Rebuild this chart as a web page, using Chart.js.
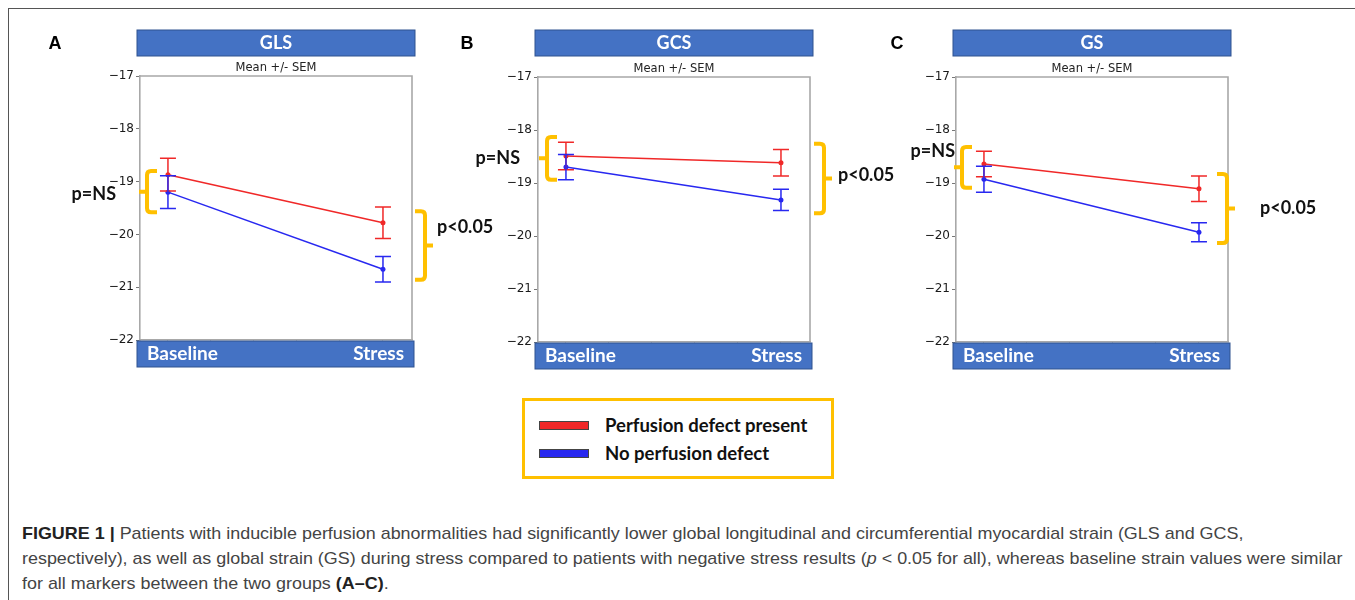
<!DOCTYPE html>
<html>
<head>
<meta charset="utf-8">
<script src="https://cdn.jsdelivr.net/npm/chart.js@4.4.1/dist/chart.umd.min.js"></script>
<style>
  body { margin: 0; background: #fff; width: 1355px; height: 600px; overflow: hidden; position: relative; }
  #frame { position: absolute; left: 8px; top: 8px; width: 1400px; height: 700px; border-left: 1.5px solid #555; border-top: 1.5px solid #555; }
  canvas { position: absolute; top: 0; }
  #legend { position: absolute; left: 522px; top: 398px; width: 306px; height: 75px; border: 3.5px solid #ffc000; font-family: Lato, sans-serif; font-weight: bold; font-size: 18.5px; color: #111; }
  #legend div { position: absolute; left: 80px; white-space: nowrap; }
  #legend span { position: absolute; left: -66px; top: 7px; width: 48px; height: 7px; border: 1px solid #444; }
  #caption { position: absolute; left: 22px; top: 521px; font-family: "Liberation Sans", Arial, sans-serif; font-size: 17px; color: #444; line-height: 25px; }
  #caption div { white-space: nowrap; transform-origin: 0 0; }
  #caption b { color: #222; }
</style>
</head>
<body>
<div id="frame"></div>
<canvas id="c0" width="540" height="380"></canvas>
<canvas id="c1" width="540" height="380"></canvas>
<canvas id="c2" width="540" height="380"></canvas>
<div id="legend"></div>
<div id="caption">
  <div><b>FIGURE 1 |</b> Patients with inducible perfusion abnormalities had significantly lower global longitudinal and circumferential myocardial strain (GLS and GCS,</div>
  <div>respectively), as well as global strain (GS) during stress compared to patients with negative stress results (<i>p</i> &lt; 0.05 for all), whereas baseline strain values were similar</div>
  <div>for all markers between the two groups <b>(A–C)</b>.</div>
</div>
<script>
var groups = ['Baseline', 'Stress'];
var titles = ['GLS', 'GCS', 'GS'];
var letters = ['A', 'B', 'C'];
var seriesNames = ['Perfusion defect present', 'No perfusion defect'];
var pLabels = ['p=NS', 'p<0.05'];

// means and SEM, [baseline, stress]
var glsDefect = [-18.87, -19.78];
var glsDefectSem = [0.31, 0.30];
var glsNone = [-19.20, -20.66];
var glsNoneSem = [0.31, 0.24];

var gcsDefect = [-18.49, -18.62];
var gcsDefectSem = [0.26, 0.25];
var gcsNone = [-18.70, -19.32];
var gcsNoneSem = [0.24, 0.20];

var gsDefect = [-18.64, -19.11];
var gsDefectSem = [0.24, 0.24];
var gsNone = [-18.93, -19.93];
var gsNoneSem = [0.245, 0.18];

// value span of each bracket: [baseline, stress]
var glsBrackets = [[-18.80, -19.58], [-19.56, -20.86]];
var gcsBrackets = [[-18.13, -18.94], [-18.26, -19.57]];
var gsBrackets = [[-18.32, -19.09], [-18.83, -20.13]];

var red = '#f02828', blue = '#2828f0', gold = '#ffc000', barBlue = '#4472c4';

var panels = [
  { defect: glsDefect, defectSem: glsDefectSem, none: glsNone, noneSem: glsNoneSem, brackets: glsBrackets,
    left: 0, top: 76, bottom: 340, letterX: 55, lb: { v: 7, tx: -31, ty: 3 }, rb: { v: 13, tx: 12, ty: -18 } },
  { defect: gcsDefect, defectSem: gcsDefectSem, none: gcsNone, noneSem: gcsNoneSem, brackets: gcsBrackets,
    left: 398, top: 77, bottom: 342, letterX: 69, lb: { v: 9, tx: -27, ty: 0 }, rb: { v: 14, tx: 14, ty: -3 } },
  { defect: gsDefect, defectSem: gsDefectSem, none: gsNone, noneSem: gsNoneSem, brackets: gsBrackets,
    left: 816, top: 77, bottom: 342, letterX: 81, lb: { v: 6, tx: -7, ty: -16 }, rb: { v: -1, tx: 33, ty: 0 } }
];

function bracket(ctx, vx, y1, y2, dir) {
  // dir 1: opens to the right (left bracket), -1: opens to the left
  var r = 4, mid = (y1 + y2) / 2;
  ctx.beginPath();
  ctx.moveTo(vx + dir * 10, y1);
  ctx.lineTo(vx + dir * r, y1);
  ctx.quadraticCurveTo(vx, y1, vx, y1 + r);
  ctx.lineTo(vx, y2 - r);
  ctx.quadraticCurveTo(vx, y2, vx + dir * r, y2);
  ctx.lineTo(vx + dir * 10, y2);
  ctx.moveTo(vx, mid);
  ctx.lineTo(vx - dir * 8, mid);
  ctx.stroke();
}

var decor = {
  id: 'decor',
  afterDatasetsDraw: function (chart) {
    var ctx = chart.ctx, x = chart.scales.x, y = chart.scales.y;
    ctx.save();
    chart.data.datasets.forEach(function (ds) {
      ctx.strokeStyle = ds.borderColor;
      ctx.lineWidth = 1.5;
      ds.data.forEach(function (pt, j) {
        var px = x.getPixelForValue(pt.x);
        var top = y.getPixelForValue(pt.y + ds.errors[j]);
        var bot = y.getPixelForValue(pt.y - ds.errors[j]);
        ctx.beginPath();
        ctx.moveTo(px, top); ctx.lineTo(px, bot);
        ctx.moveTo(px - 8, top); ctx.lineTo(px + 8, top);
        ctx.moveTo(px - 8, bot); ctx.lineTo(px + 8, bot);
        ctx.stroke();
      });
    });
    ctx.restore();
  },
  afterDraw: function (chart, args, o) {
    var ctx = chart.ctx, a = chart.chartArea, y = chart.scales.y, p = o.panel;
    ctx.save();
    // box top and right
    ctx.strokeStyle = '#a8a8a8';
    ctx.lineWidth = 1.6;
    ctx.beginPath();
    ctx.moveTo(a.left, a.top); ctx.lineTo(a.right, a.top); ctx.lineTo(a.right, a.bottom);
    ctx.stroke();

    // title bar and group bar
    ctx.fillStyle = barBlue;
    ctx.strokeStyle = '#2f528f';
    ctx.lineWidth = 1;
    ctx.fillRect(a.left - 3, 30, a.right - a.left + 6, 26);
    ctx.strokeRect(a.left - 3, 30, a.right - a.left + 6, 26);
    ctx.fillRect(a.left - 3, a.bottom + 1, a.right - a.left + 5, 26);
    ctx.strokeRect(a.left - 3, a.bottom + 1, a.right - a.left + 5, 26);

    ctx.fillStyle = '#fff';
    ctx.textBaseline = 'middle';
    ctx.font = 'bold 18px Lato';
    ctx.textAlign = 'center';
    ctx.fillText(o.title, (a.left + a.right) / 2, 43);
    ctx.font = 'bold 19px Lato';
    ctx.textAlign = 'left';
    ctx.fillText(groups[0], a.left + 7, a.bottom + 14);
    ctx.textAlign = 'right';
    ctx.fillText(groups[1], a.right - 8, a.bottom + 14);

    ctx.fillStyle = '#222';
    ctx.textAlign = 'center';
    ctx.font = '11.5px "DejaVu Sans"';
    ctx.fillText('Mean +/- SEM', (a.left + a.right) / 2, a.top - 8);

    ctx.fillStyle = '#000';
    ctx.font = 'bold 18px "Liberation Sans"';
    ctx.fillText(o.letter, p.letterX, 44);

    // significance brackets
    ctx.strokeStyle = gold;
    ctx.lineWidth = 4;
    var l1 = y.getPixelForValue(p.brackets[0][0]), l2 = y.getPixelForValue(p.brackets[0][1]);
    var r1 = y.getPixelForValue(p.brackets[1][0]), r2 = y.getPixelForValue(p.brackets[1][1]);
    var lv = a.left + p.lb.v, rv = a.right + p.rb.v;
    bracket(ctx, lv, l1, l2, 1);
    bracket(ctx, rv, r1, r2, -1);

    ctx.fillStyle = '#111';
    ctx.font = 'bold 18px Lato';
    ctx.textAlign = 'right';
    ctx.fillText(pLabels[0], lv + p.lb.tx, (l1 + l2) / 2 + p.lb.ty);
    ctx.textAlign = 'left';
    ctx.fillText(pLabels[1], rv + p.rb.tx, (r1 + r2) / 2 + p.rb.ty);
    ctx.restore();
  }
};

function points(vals) {
  return vals.map(function (v, j) { return { x: j, y: v }; });
}

panels.forEach(function (p, i) {
  var canvas = document.getElementById('c' + i);
  canvas.style.left = p.left + 'px';
  new Chart(canvas, {
    type: 'line',
    data: {
      datasets: [
        { label: seriesNames[0], data: points(p.defect), errors: p.defectSem, borderColor: red, backgroundColor: red,
          borderWidth: 1.5, pointRadius: 2.5, pointBorderWidth: 0 },
        { label: seriesNames[1], data: points(p.none), errors: p.noneSem, borderColor: blue, backgroundColor: blue,
          borderWidth: 1.5, pointRadius: 2.5, pointBorderWidth: 0 }
      ]
    },
    options: {
      responsive: false,
      animation: false,
      layout: { padding: { left: 100, right: 128, top: p.top, bottom: 380 - p.bottom - 6 } },
      plugins: {
        legend: { display: false },
        tooltip: { enabled: false },
        decor: { panel: p, title: titles[i], letter: letters[i] }
      },
      scales: {
        x: {
          type: 'linear', min: -0.13, max: 1.135,
          afterFit: function (s) { s.height = 6; },
          ticks: { display: false, stepSize: 0.2, includeBounds: false },
          grid: { drawOnChartArea: false, tickLength: 4, color: '#777' },
          border: { color: '#a8a8a8', width: 1.6 }
        },
        y: {
          min: -22, max: -17,
          afterFit: function (s) { s.width = 40; },
          ticks: {
            stepSize: 1, padding: 2, color: '#1a1a1a',
            font: { family: 'DejaVu Sans', size: 12 },
            callback: function (v) { return v < 0 ? '\u2212' + Math.abs(v) : String(v); }
          },
          grid: { drawOnChartArea: false, tickLength: 4, color: '#777' },
          border: { color: '#a8a8a8', width: 1.6 }
        }
      }
    },
    plugins: [decor]
  });
});

// legend box
var legend = document.getElementById('legend');
[red, blue].forEach(function (c, k) {
  var row = document.createElement('div');
  row.style.top = (13 + k * 28) + 'px';
  row.textContent = seriesNames[k];
  var sw = document.createElement('span');
  sw.style.background = c;
  row.appendChild(sw);
  legend.appendChild(row);
});

// fit caption lines to the reference width
var lines = document.querySelectorAll('#caption div');
var k = 1320 / lines[1].scrollWidth;
lines.forEach(function (d) { d.style.transform = 'scaleX(' + k + ')'; });
</script>
</body>
</html>
